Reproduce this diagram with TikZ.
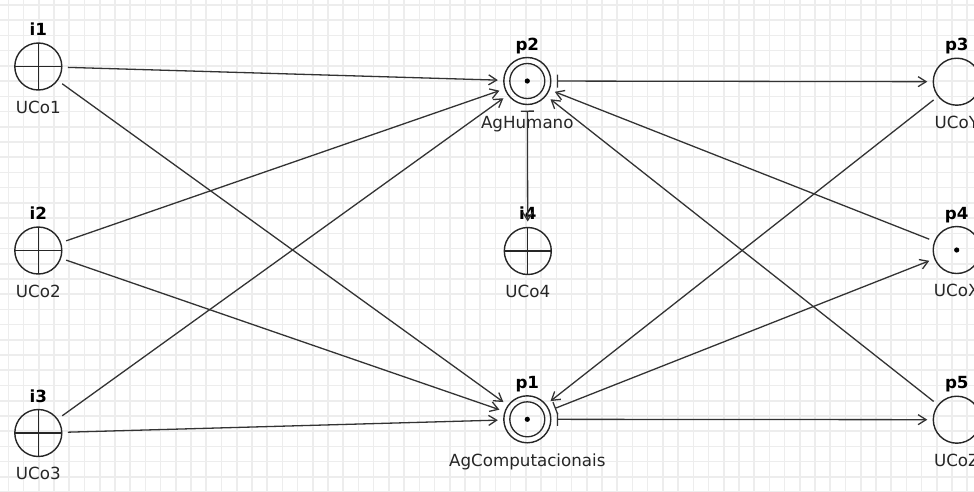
\documentclass[tikz,border=0pt]{standalone}
\usepackage{fontspec}
\setmainfont{DejaVu Sans}
\usetikzlibrary{arrows.meta}
\definecolor{gridc}{HTML}{EDEDED}
\definecolor{linec}{HTML}{333333}
\begin{document}
\begin{tikzpicture}[x=1pt,y=-1pt,
  place/.style={circle,draw=black!85,line width=1.4pt,minimum size=47pt,inner sep=0pt,outer sep=6pt},
  inplace/.style={place,path picture={
      \draw[line width=1.3pt,black!85] (path picture bounding box.north) -- (path picture bounding box.south)
        (path picture bounding box.west) -- (path picture bounding box.east);}},
  agplace/.style={place,path picture={
      \draw[line width=1.3pt,black!85] (path picture bounding box.center) circle (17.5pt);
      \fill[black] (path picture bounding box.center) circle (2.6pt);}},
  dotplace/.style={place,path picture={
      \fill[black] (path picture bounding box.center) circle (2.6pt);}},
  toplab/.style={anchor=base,inner sep=0pt,font=\fontsize{16.7}{20}\selectfont\bfseries},
  botlab/.style={anchor=base,inner sep=0pt,font=\fontsize{16.7}{20}\selectfont,text=black!85},
  arc/.style={draw=linec,line width=1.3pt,-{Straight Barb[length=8pt,width=10pt,line width=1.3pt]}},
  outarc/.style={draw=linec,line width=1.3pt,{Bar[width=13pt,line width=1.3pt]}-{Straight Barb[length=8pt,width=10pt,line width=1.3pt]}}
]
\useasboundingbox (0,0) rectangle (974,491);
\clip (0,0) rectangle (974,491);
\fill[white] (0,0) rectangle (974,491);
% grid
\foreach \k in {0,...,64} {
  \draw[gridc,line width=1.6pt] ({8.4+15.22*\k},0) -- ({8.4+15.22*\k},491);
}
\foreach \k in {0,...,32} {
  \draw[gridc,line width=1.6pt] (0,{5+15.22*\k}) -- (974,{5+15.22*\k});
}
% places
\node[inplace] (i1) at (38.3,66.5) {};
\node[inplace] (i2) at (38.3,250.5) {};
\node[inplace] (i3) at (38.3,433) {};
\node[agplace] (p2) at (527.3,81) {};
\node[inplace] (i4) at (527.8,251) {};
\node[agplace] (p1) at (527.3,419.3) {};
\node[place] (p3) at (956.8,81.7) {};
\node[dotplace] (p4) at (956.7,250) {};
\node[place] (p5) at (956.8,419.7) {};
% labels
\node[toplab] (i1t) at (38.3,35.5) {i1};
\node[botlab] (i1b) at (38.3,113) {UCo1};
\node[toplab] (i2t) at (38.3,219.5) {i2};
\node[botlab] (i2b) at (38.3,297) {UCo2};
\node[toplab] (i3t) at (38.3,402) {i3};
\node[botlab] (i3b) at (38.3,479.5) {UCo3};
\node[toplab] (p2t) at (527.3,50.5) {p2};
\node[botlab] (p2b) at (527.3,128) {AgHumano};
\node[toplab] (i4t) at (527.8,219) {i4};
\node[botlab] (i4b) at (527.8,297.5) {UCo4};
\node[toplab] (p1t) at (527.3,388.5) {p1};
\node[botlab] (p1b) at (527.3,466) {AgComputacionais};
\node[toplab] (p3t) at (956.8,50.5) {p3};
\node[botlab] (p3b) at (956.8,128.5) {UCoY};
\node[toplab] (p4t) at (956.7,219) {p4};
\node[botlab] (p4b) at (956.7,296.5) {UCoX};
\node[toplab] (p5t) at (956.8,388.5) {p5};
\node[botlab] (p5b) at (956.8,466.5) {UCoZ};
% arcs
\draw[arc] (i1) -- (p2);
\draw[arc] (i1) -- (p1);
\draw[arc] (i2) -- (p2);
\draw[arc] (i2) -- (p1);
\draw[arc] (i3) -- (p2);
\draw[arc] (i3) -- (p1);
\draw[outarc] (p2) -- (p3);
\draw[outarc] (p2) -- (i4);
\draw[outarc] (p1) -- (p5);
\draw[outarc] (p1) -- (p4);
\draw[arc] (p3) -- (p1);
\draw[arc] (p4) -- (p2);
\draw[arc] (p5) -- (p2);
\end{tikzpicture}
\end{document}
